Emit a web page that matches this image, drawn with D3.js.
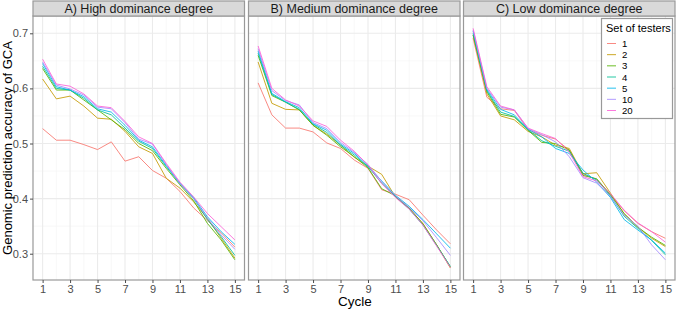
<!DOCTYPE html>
<html><head><meta charset="utf-8">
<script src="https://cdn.jsdelivr.net/npm/d3@7"></script>
<style>body{margin:0;background:#fff}svg{display:block}text{font-family:"Liberation Sans",Arial,sans-serif}</style>
</head><body><svg id="c" width="676" height="309"></svg>
<script>
const cycles = d3.range(1, 16);
const testers = ["1","2","3","4","5","10","20"];
const colors = ["#F8766D","#C49A00","#53B400","#00C094","#00B6EB","#A58AFF","#FB61D7"];
const panelTitles = ["A) High dominance degree","B) Medium dominance degree","C) Low dominance degree"];
const xTicks = [1,3,5,7,9,11,13,15];
const yTicks = [0.3,0.4,0.5,0.6,0.7];

const highDom = {
  "1":  [0.527,0.506,0.506,0.498,0.489,0.503,0.468,0.476,0.451,0.437,0.413,0.383,0.360,0.338,0.312],
  "2":  [0.617,0.581,0.586,0.568,0.546,0.544,0.522,0.494,0.482,0.437,0.419,0.394,0.364,0.328,0.292],
  "3":  [0.636,0.597,0.597,0.579,0.561,0.543,0.525,0.500,0.487,0.455,0.425,0.396,0.355,0.325,0.289],
  "4":  [0.640,0.600,0.597,0.582,0.561,0.552,0.528,0.504,0.491,0.458,0.427,0.400,0.362,0.331,0.297],
  "5":  [0.645,0.603,0.597,0.585,0.563,0.557,0.533,0.506,0.494,0.460,0.428,0.402,0.367,0.340,0.317],
  "10": [0.648,0.606,0.599,0.588,0.566,0.563,0.538,0.508,0.499,0.462,0.427,0.400,0.365,0.334,0.308],
  "20": [0.653,0.608,0.604,0.590,0.568,0.565,0.540,0.512,0.500,0.464,0.430,0.403,0.373,0.349,0.325]
};
const mediumDom = {
  "1":  [0.610,0.552,0.528,0.528,0.521,0.501,0.491,0.470,0.455,0.416,0.408,0.398,0.370,0.343,0.318],
  "2":  [0.648,0.573,0.562,0.561,0.533,0.517,0.497,0.475,0.459,0.444,0.403,0.382,0.355,0.316,0.274],
  "3":  [0.660,0.587,0.575,0.561,0.533,0.515,0.494,0.476,0.456,0.418,0.405,0.383,0.354,0.316,0.276],
  "4":  [0.664,0.589,0.575,0.562,0.535,0.520,0.497,0.479,0.458,0.428,0.404,0.381,0.352,0.315,0.277],
  "5":  [0.668,0.591,0.576,0.565,0.536,0.524,0.499,0.482,0.459,0.432,0.406,0.386,0.362,0.336,0.310],
  "10": [0.672,0.596,0.578,0.570,0.538,0.527,0.502,0.484,0.462,0.431,0.405,0.384,0.360,0.329,0.297],
  "20": [0.677,0.600,0.579,0.568,0.541,0.531,0.506,0.486,0.461,0.427,0.402,0.381,0.352,0.314,0.275]
};
const lowDom = {
  "1":  [0.691,0.584,0.563,0.560,0.525,0.515,0.508,0.488,0.444,0.435,0.408,0.378,0.355,0.340,0.328],
  "2":  [0.697,0.590,0.550,0.543,0.522,0.512,0.497,0.491,0.445,0.447,0.410,0.372,0.348,0.328,0.313],
  "3":  [0.697,0.594,0.553,0.548,0.524,0.502,0.500,0.488,0.442,0.436,0.407,0.373,0.348,0.330,0.315],
  "4":  [0.700,0.596,0.557,0.549,0.525,0.505,0.495,0.486,0.446,0.434,0.405,0.368,0.346,0.324,0.298],
  "5":  [0.704,0.598,0.562,0.552,0.526,0.512,0.491,0.482,0.452,0.430,0.402,0.362,0.343,0.325,0.301],
  "10": [0.706,0.600,0.566,0.561,0.527,0.516,0.503,0.476,0.438,0.428,0.404,0.370,0.350,0.316,0.289],
  "20": [0.709,0.603,0.568,0.561,0.528,0.518,0.509,0.484,0.440,0.432,0.409,0.379,0.356,0.340,0.321]
};
const panelsData = [highDom, mediumDom, lowDom];

const svg = d3.select("#c");
const plotTop = 16, plotBottom = 280, stripTop = 1;
const panelLefts = [33, 248.5, 463.5], panelW = 211.5;
const y = d3.scaleLinear().domain([0.2523, 0.7314]).range([plotBottom, plotTop]);
const color = d3.scaleOrdinal().domain(testers).range(colors);

panelsData.forEach((pd, i) => {
  const x0 = panelLefts[i];
  const x = d3.scaleLinear().domain([0.3, 15.7]).range([x0, x0 + panelW]);
  const g = svg.append("g");
  g.append("rect").attr("x", x0).attr("y", plotTop).attr("width", panelW).attr("height", plotBottom - plotTop).attr("fill", "#fff");
  [0.35,0.45,0.55,0.65].forEach(v => g.append("line").attr("x1", x0).attr("x2", x0+panelW).attr("y1", y(v)).attr("y2", y(v)).attr("stroke", "#f4f4f4").attr("stroke-width", 0.6));
  [2,4,6,8,10,12,14].forEach(v => g.append("line").attr("y1", plotTop).attr("y2", plotBottom).attr("x1", x(v)).attr("x2", x(v)).attr("stroke", "#f4f4f4").attr("stroke-width", 0.6));
  yTicks.forEach(v => g.append("line").attr("x1", x0).attr("x2", x0+panelW).attr("y1", y(v)).attr("y2", y(v)).attr("stroke", "#ebebeb").attr("stroke-width", 1.1));
  xTicks.forEach(v => g.append("line").attr("y1", plotTop).attr("y2", plotBottom).attr("x1", x(v)).attr("x2", x(v)).attr("stroke", "#ebebeb").attr("stroke-width", 1.1));
  const line = d3.line().x((d, j) => x(cycles[j])).y(d => y(d));
  testers.forEach(t => {
    g.append("path").datum(pd[t]).attr("d", line).attr("fill", "none")
      .attr("stroke", color(t)).attr("stroke-width", 1).attr("stroke-opacity", 0.85);
  });
  g.append("rect").attr("x", x0).attr("y", plotTop).attr("width", panelW).attr("height", plotBottom - plotTop)
    .attr("fill", "none").attr("stroke", "#999").attr("stroke-width", 1.2);
  g.append("rect").attr("x", x0).attr("y", stripTop).attr("width", panelW).attr("height", plotTop - stripTop)
    .attr("fill", "#d9d9d9").attr("stroke", "#999").attr("stroke-width", 1.2);
  g.append("text").attr("x", x0 + panelW/2).attr("y", (stripTop + plotTop)/2 + 4.5).attr("text-anchor", "middle")
    .attr("font-size", 12.5).attr("fill", "#1a1a1a").text(panelTitles[i]);
  const xa = g.append("g").attr("transform", `translate(0,${plotBottom})`)
    .call(d3.axisBottom(x).tickValues(xTicks).tickSize(3).tickPadding(2));
  xa.select(".domain").remove();
  xa.selectAll("line").attr("stroke", "#4d4d4d");
  xa.selectAll("text").attr("font-size", 11).attr("fill", "#4d4d4d").attr("font-family", "Liberation Sans, Arial, sans-serif");
  if (i === 0) {
    const ya = g.append("g").attr("transform", `translate(${x0},0)`)
      .call(d3.axisLeft(y).tickValues(yTicks).tickFormat(d3.format(".1f")).tickSize(3).tickPadding(2));
    ya.select(".domain").remove();
    ya.selectAll("line").attr("stroke", "#4d4d4d");
    ya.selectAll("text").attr("font-size", 11).attr("fill", "#4d4d4d").attr("font-family", "Liberation Sans, Arial, sans-serif");
  }
});

svg.append("text").attr("x", 355).attr("y", 306).attr("text-anchor", "middle").attr("font-size", 13.5).attr("fill", "#000").text("Cycle");
svg.append("text").attr("transform", `translate(12,${(plotTop+plotBottom)/2}) rotate(-90)`).attr("text-anchor", "middle")
  .attr("font-size", 13).attr("fill", "#000").text("Genomic prediction accuracy of GCA");

const lg = svg.append("g");
lg.append("rect").attr("x", 601.5).attr("y", 18.5).attr("width", 71).attr("height", 100)
  .attr("fill", "#fff").attr("stroke", "#999").attr("stroke-width", 1.2);
lg.append("text").attr("x", 606).attr("y", 32).attr("font-size", 11).attr("fill", "#000").text("Set of testers");
const ly = d3.scalePoint().domain(testers).range([43.5, 110.5]);
testers.forEach(t => {
  lg.append("line").attr("x1", 607).attr("x2", 616).attr("y1", ly(t)).attr("y2", ly(t))
    .attr("stroke", color(t)).attr("stroke-width", 1).attr("stroke-opacity", 0.85);
  lg.append("text").attr("x", 622).attr("y", ly(t) + 3.6).attr("font-size", 9.6).attr("fill", "#000").text(t);
});
</script></body></html>
